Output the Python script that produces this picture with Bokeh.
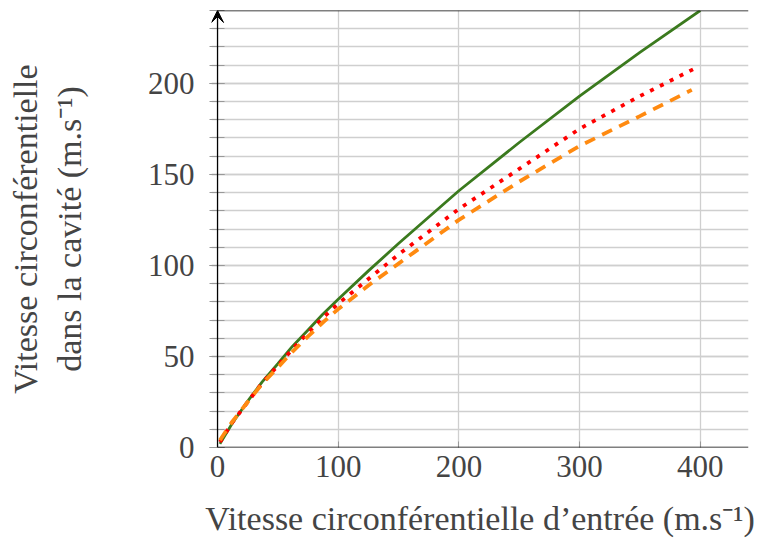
from bokeh.plotting import figure
from bokeh.models import (Range1d, FixedTicker, Arrow, VeeHead)
from bokeh.embed import file_html
from bokeh.resources import INLINE

# ---- data ----
green_x = [2, 12, 25, 37, 50, 62, 75, 87, 100, 125, 150, 200, 250, 300, 350, 400]
green_y = [2, 13, 25.5, 36, 46, 55.5, 64.5, 73, 81.4, 97, 112, 141, 167.5, 193, 217, 240]

red_x = [2, 12, 25, 37, 50, 62, 75, 87, 100, 125, 150, 200, 250, 300, 350, 395]
red_y = [3, 13.5, 25, 35.5, 45, 54, 63, 71, 79, 92.5, 106, 131, 153, 175, 193, 208]

orange_x = [2, 12, 25, 37, 50, 62, 75, 87, 100, 125, 150, 200, 250, 300, 350, 393]
orange_y = [4, 14, 25, 35, 44, 52.5, 61, 68.5, 76, 89, 101, 125, 146, 165.6, 182, 196.4]

x_ticks = [0, 100, 200, 300, 400]
y_ticks = [0, 50, 100, 150, 200]
y_minor = list(range(0, 250, 10))

x_min, x_max = 0, 440
y_min, y_max = 0, 240

x_label = "Vitesse circonférentielle d’entrée (m.s⁻¹)"
y_label = "Vitesse circonférentielle\ndans la cavité (m.s⁻¹)"

FONT = "Liberation Serif"
GRID = "#cfcfcf"
TICK = "#999999"

# small left pad so that the arrow head on the y axis is not clipped
p = figure(width=770, height=539, output_backend="svg", toolbar_location=None,
           x_range=Range1d(x_min - 5, x_max), y_range=Range1d(y_min, y_max),
           min_border_left=211, min_border_right=22, min_border_top=10,
           min_border_bottom=90, x_axis_label=x_label, y_axis_label=y_label)
p.outline_line_color = None
p.background_fill_color = "white"
p.border_fill_color = "white"

# axes
xa = p.xaxis[0]
xa.ticker = FixedTicker(ticks=x_ticks)
xa.axis_line_color = None
xa.major_tick_in = 6
xa.major_tick_out = 0
xa.major_tick_line_color = TICK
xa.minor_tick_line_color = None
xa.major_label_text_font = FONT
xa.major_label_text_font_size = "31px"
xa.major_label_standoff = 8
xa.axis_label_text_font = FONT
xa.axis_label_text_font_size = "34px"
xa.axis_label_text_font_style = "normal"
xa.axis_label_standoff = 20

ya = p.yaxis[0]
ya.ticker = FixedTicker(ticks=y_ticks, minor_ticks=y_minor)
ya.axis_line_color = None
ya.major_tick_in = 13
ya.major_tick_out = 2
ya.minor_tick_in = 13
ya.minor_tick_out = 2
ya.major_tick_line_color = TICK
ya.minor_tick_line_color = TICK
ya.major_label_text_font = FONT
ya.major_label_text_font_size = "31px"
ya.major_label_text_align = "right"
ya.major_label_standoff = 15
ya.axis_label_text_font = FONT
ya.axis_label_text_font_size = "34px"
ya.axis_label_text_font_style = "normal"
ya.axis_label_standoff = 57

# grids
p.xgrid.ticker = FixedTicker(ticks=x_ticks[1:])
p.xgrid.grid_line_color = GRID
p.xgrid.grid_line_width = 1.3
p.ygrid.ticker = FixedTicker(ticks=y_ticks, minor_ticks=y_minor)
p.ygrid.grid_line_color = GRID
p.ygrid.grid_line_width = 1.3
p.ygrid.minor_grid_line_color = GRID
p.ygrid.minor_grid_line_width = 1.3

# curves
p.line(green_x, green_y, line_color="#3b7a1e", line_width=2.8)
p.line(red_x, red_y, line_color="#ff0000", line_width=3.8, line_dash="4 7")
p.line(orange_x, orange_y, line_color="#ff8a10", line_width=3.8, line_dash="11 8")

# axis lines: bottom, top border, and the y axis with its arrow head
p.add_layout(Arrow(end=None, x_start=x_min, y_start=y_min, x_end=x_max, y_end=y_min,
                   line_color="black", line_width=1.3))
p.add_layout(Arrow(end=None, x_start=x_min, y_start=y_max, x_end=x_max, y_end=y_max,
                   line_color="black", line_width=1.3))
p.add_layout(Arrow(end=VeeHead(size=12, line_color="black", fill_color="black",
                               line_width=1),
                   x_start=x_min, y_start=y_min, x_end=x_min, y_end=y_max,
                   line_color="black", line_width=1.3))

open("out.html", "w").write(file_html(p, INLINE))
